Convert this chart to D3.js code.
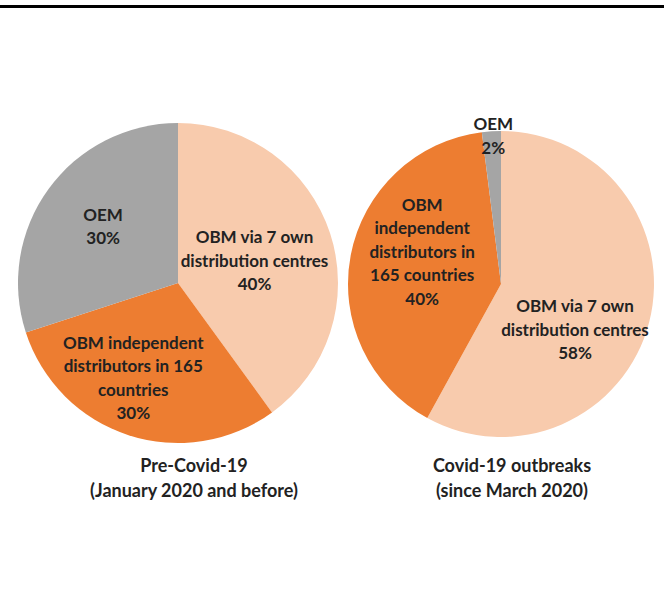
<!DOCTYPE html>
<html>
<head>
<meta charset="utf-8">
<script src="https://cdn.jsdelivr.net/npm/d3@7"></script>
<style>
  html, body { margin: 0; padding: 0; background: #fff; }
  svg { display: block; }
  text { font-family: Lato, "Open Sans", sans-serif; font-weight: 700; fill: #222; }
</style>
</head>
<body>
<svg id="chart" width="664" height="599"></svg>
<script>
// Sales channel shares, before and after the Covid-19 outbreak
const categories = ["OBM via 7 own distribution centres", "OBM independent distributors in 165 countries", "OEM"];
const preCovidValues = [40, 30, 30];
const covidValues = [58, 40, 2];
const sliceColors = ["#F8CBAD", "#ED7D31", "#A5A5A5"];

// How each category name wraps inside each pie
const preCovidLabelLines = [
  ["OBM via 7 own", "distribution centres"],
  ["OBM independent", "distributors in 165", "countries"],
  ["OEM"]
];
const covidLabelLines = [
  ["OBM via 7 own", "distribution centres"],
  ["OBM", "independent", "distributors in", "165 countries"],
  ["OEM"]
];
const pieTitles = [
  ["Pre-Covid-19", "(January 2020 and before)"],
  ["Covid-19 outbreaks", "(since March 2020)"]
];

const svg = d3.select("#chart");

// Rule across the top of the figure
svg.append("rect").attr("x", 0).attr("y", 5).attr("width", 664).attr("height", 3).attr("fill", "#000");

const pies = [
  { values: preCovidValues, lines: preCovidLabelLines, title: pieTitles[0],
    cx: 178, cy: 283, r: 160, titleX: 194,
    // label placement: [radius fraction, angle in degrees clockwise from 12 o'clock]
    labelPos: [[0.50, 73], [0.65, 205.5], [0.59, 307.5]] },
  { values: covidValues, lines: covidLabelLines, title: pieTitles[1],
    cx: 501, cy: 284, r: 153, titleX: 512,
    labelPos: [[0.566, 121.3], [0.56, 293], [0.976, 357]] }
];

const pieGen = d3.pie().sort(null).value(d => d);
const lineH = 23.5;

pies.forEach(p => {
  const g = svg.append("g").attr("transform", `translate(${p.cx},${p.cy})`);
  const arc = d3.arc().innerRadius(0).outerRadius(p.r);
  const arcs = pieGen(p.values);

  g.selectAll("path.slice")
    .data(arcs)
    .join("path")
    .attr("class", "slice")
    .attr("d", arc)
    .attr("fill", (d, i) => sliceColors[i]);

  arcs.forEach((d, i) => {
    const [fr, deg] = p.labelPos[i];
    const a = deg * Math.PI / 180;
    const x = Math.sin(a) * fr * p.r;
    const y = -Math.cos(a) * fr * p.r;
    const lines = p.lines[i].concat([d.data + "%"]);
    const t = g.append("text")
      .attr("text-anchor", "middle")
      .attr("font-size", 17)
      .attr("x", x)
      .attr("y", y - (lines.length - 1) * lineH / 2)
      .attr("dominant-baseline", "central");
    lines.forEach((s, k) => {
      t.append("tspan").attr("x", x).attr("dy", k === 0 ? 0 : lineH).text(s);
    });
  });

  const tt = svg.append("text")
    .attr("text-anchor", "middle")
    .attr("font-size", 18)
    .attr("dominant-baseline", "central")
    .attr("x", p.titleX)
    .attr("y", 465);
  p.title.forEach((s, k) => {
    tt.append("tspan").attr("x", p.titleX).attr("dy", k === 0 ? 0 : 25).text(s);
  });
});
</script>
</body>
</html>
